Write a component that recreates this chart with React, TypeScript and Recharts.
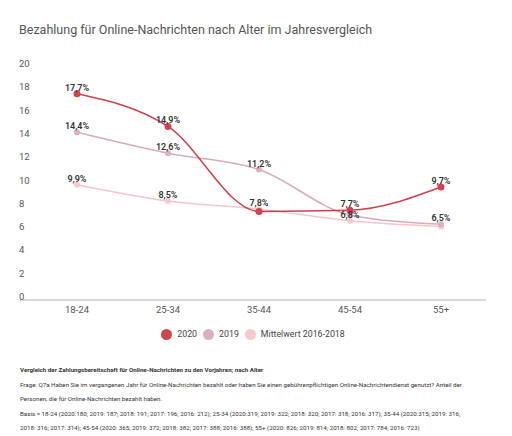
import React from "react";
import { LineChart, Line, XAxis, YAxis } from "recharts";

const categories = ["18-24", "25-34", "35-44", "45-54", "55+"];
const values2020 = [17.7, 14.9, 7.6, 7.7, 9.7];
const values2019 = [14.4, 12.6, 11.2, 7.3, 6.5];
const valuesAvg = [9.9, 8.5, 7.8, 6.8, 6.3];
const show2020 = [true, true, false, true, true];
const show2019 = [true, true, true, false, true];
const showAvg = [true, true, true, true, false];
const yTicks = [0, 2, 4, 6, 8, 10, 12, 14, 16, 18, 20];

const seriesNames = ["2020", "2019", "Mittelwert 2016-2018"];
const seriesColors = ["#c9434e", "#d9aabb", "#f6c5ca"];
const dotColors = ["#d04450", "#dcb0c0", "#f7c9cc"];

const title = "Bezahlung für Online-Nachrichten nach Alter im Jahresvergleich";
const footerBold = "Vergleich der Zahlungsbereitschaft für Online-Nachrichten zu den Vorjahren; nach Alter";
const footerLines = [
  "Frage: Q7a Haben Sie im vergangenen Jahr für Online-Nachrichten bezahlt oder haben Sie einen gebührenpflichtigen Online-Nachrichtendienst genutzt? Anteil der",
  "Personen, die für Online-Nachrichten bezahlt haben.",
  "Basis = 18-24 (2020:180; 2019: 187; 2018: 191; 2017: 196; 2016: 212); 25-34 (2020:319; 2019: 322; 2018: 320; 2017: 318; 2016: 317); 35-44 (2020:315; 2019: 316;",
  "2018: 316; 2017: 314); 45-54 (2020: 365; 2019: 372; 2018: 382; 2017: 388; 2016: 388); 55+ (2020: 826; 2019: 814; 2018: 802; 2017: 784; 2016: 723)",
];

const data = categories.map((c, i) => ({
  cat: c,
  s2020: values2020[i],
  s2019: values2019[i],
  avg: valuesAvg[i],
}));

const FONT = "Roboto, 'Noto Sans', sans-serif";

const fmt = (v: number) => v.toFixed(1).replace(".", ",") + "%";

const makeLabel = (visible: boolean[]) => (props: any) => {
  const { x, y, value, index } = props;
  if (!visible[index]) return null;
  return (
    <text
      key={`l-${index}`}
      x={x}
      y={y - 3}
      textAnchor="middle"
      fontFamily={FONT}
      fontSize={9}
      fontWeight={600}
      fill="#333"
    >
      {fmt(value)}
    </text>
  );
};

const YTick = (props: any) => {
  const { y, payload } = props;
  return (
    <text x={19} y={y} textAnchor="start" fontFamily={FONT} fontSize={9.5} fill="#555">
      {payload.value}
    </text>
  );
};

const XTick = (props: any) => {
  const { x, payload } = props;
  return (
    <text x={x} y={313} textAnchor="middle" fontFamily={FONT} fontSize={9.5} fill="#555">
      {payload.value}
    </text>
  );
};

export default function App() {
  return (
    <div
      style={{
        position: "absolute",
        left: 0,
        top: 0,
        width: 512,
        height: 436,
        background: "#fff",
        fontFamily: FONT,
        overflow: "hidden",
      }}
    >
      <div
        style={{
          position: "absolute",
          left: 19,
          top: 22,
          fontSize: 12.5,
          color: "#555",
          whiteSpace: "nowrap",
        }}
      >
        {title}
      </div>
      <div style={{ position: "absolute", left: 0, top: 0 }}>
        <LineChart
          width={512}
          height={320}
          data={data}
          margin={{ top: 67, right: 26, bottom: 0, left: 0 }}
        >
          <XAxis
            dataKey="cat"
            height={20}
            padding={{ left: 57, right: 45 }}
            axisLine={{ stroke: "#cccccc", strokeWidth: 1.5 }}
            tickLine={false}
            tick={<XTick />}
            interval={0}
          />
          <YAxis
            width={20}
            domain={[0, 20]}
            ticks={yTicks}
            axisLine={false}
            tickLine={false}
            tick={<YTick />}
            interval={0}
          />
          <Line
            type="monotone"
            dataKey="avg"
            stroke={seriesColors[2]}
            strokeWidth={1.5}
            dot={{ r: 3, fill: dotColors[2], stroke: dotColors[2], strokeWidth: 0 }}
            activeDot={false}
            isAnimationActive={false}
            label={makeLabel(showAvg)}
          />
          <Line
            type="monotone"
            dataKey="s2019"
            stroke={seriesColors[1]}
            strokeWidth={1.5}
            dot={{ r: 3, fill: dotColors[1], stroke: dotColors[1], strokeWidth: 0 }}
            activeDot={false}
            isAnimationActive={false}
            label={makeLabel(show2019)}
          />
          <Line
            type="monotone"
            dataKey="s2020"
            stroke={seriesColors[0]}
            strokeWidth={1.5}
            dot={{ r: 3.5, fill: dotColors[0], stroke: dotColors[0], strokeWidth: 0 }}
            activeDot={false}
            isAnimationActive={false}
            label={makeLabel(show2020)}
          />
        </LineChart>
      </div>
      <div
        style={{
          position: "absolute",
          left: 20,
          width: 466,
          top: 328,
          display: "flex",
          justifyContent: "center",
          alignItems: "center",
          fontSize: 8.8,
          color: "#444",
        }}
      >
        {seriesNames.map((n, i) => (
          <div key={n} style={{ display: "flex", alignItems: "center", marginRight: i < 2 ? 6 : 0 }}>
            <span
              style={{
                display: "inline-block",
                width: 11,
                height: 11,
                borderRadius: "50%",
                background: dotColors[i],
                marginRight: 5,
              }}
            />
            <span style={{ lineHeight: "12px" }}>{n}</span>
          </div>
        ))}
      </div>
      <div
        style={{
          position: "absolute",
          left: 20,
          top: 363,
          fontSize: 6.2,
          color: "#333",
          lineHeight: "14.5px",
          whiteSpace: "nowrap",
        }}
      >
        <div style={{ fontWeight: 700 }}>{footerBold}</div>
        {footerLines.map((l, i) => (
          <div key={i}>{l}</div>
        ))}
      </div>
    </div>
  );
}
